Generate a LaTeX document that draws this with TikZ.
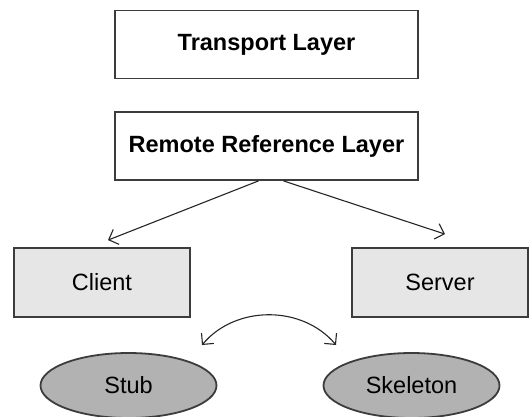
\documentclass[tikz,border=0pt]{standalone}
\usepackage{fontspec}
\setmainfont{Liberation Sans}
\usetikzlibrary{shapes.geometric, arrows.meta}
\definecolor{edge}{RGB}{60,60,60}
\definecolor{hostbg}{RGB}{230,230,230}
\definecolor{stubbg}{RGB}{178,178,178}
\tikzset{
  layer/.style={rectangle, draw=edge, line width=1.8pt, fill=white, minimum width=303pt, minimum height=68pt, inner sep=0pt, font=\fontsize{23.5}{28}\selectfont\bfseries},
  host/.style={rectangle, draw=edge, line width=1.8pt, fill=hostbg, minimum width=176pt, minimum height=69pt, inner sep=0pt, font=\fontsize{23.5}{28}\selectfont},
  proxy/.style={ellipse, draw=edge, line width=1.8pt, fill=stubbg, minimum width=176pt, minimum height=65pt, inner sep=0pt, font=\fontsize{23.5}{28}\selectfont},
  link/.style={draw=black!85, line width=1.1pt, -{Straight Barb[length=8pt, width=16pt, line width=1.1pt]}},
}
\begin{document}
\begin{tikzpicture}[x=1pt, y=-1pt]
\useasboundingbox[fill=white] (0,0) rectangle (529,416);
\node[layer] (transport) at (266.5,44.5) {Transport Layer};
\node[layer] (rrl) at (266.5,146) {Remote Reference Layer};
\node[host] (client) at (102,282.5) {Client};
\node[host] (server) at (440,282.5) {Server};
\node[proxy] (stub) at (128.5,385.5) {Stub};
\node[proxy] (skel) at (411.5,385.5) {Skeleton};
\coordinate (arcl) at (202,345);
\coordinate (arcr) at (336,345);
\draw[link] ([xshift=-8pt]rrl.south) -- ([xshift=6pt, yshift=7pt]client.north);
\draw[link] ([xshift=17pt]rrl.south) -- ([xshift=5pt, yshift=13pt]server.north);
\draw[link, {Straight Barb[length=8pt, width=16pt, line width=1.1pt]}-{Straight Barb[length=8pt, width=16pt, line width=1.1pt]}] (arcl) to[bend left=50] (arcr);
\end{tikzpicture}
\end{document}
